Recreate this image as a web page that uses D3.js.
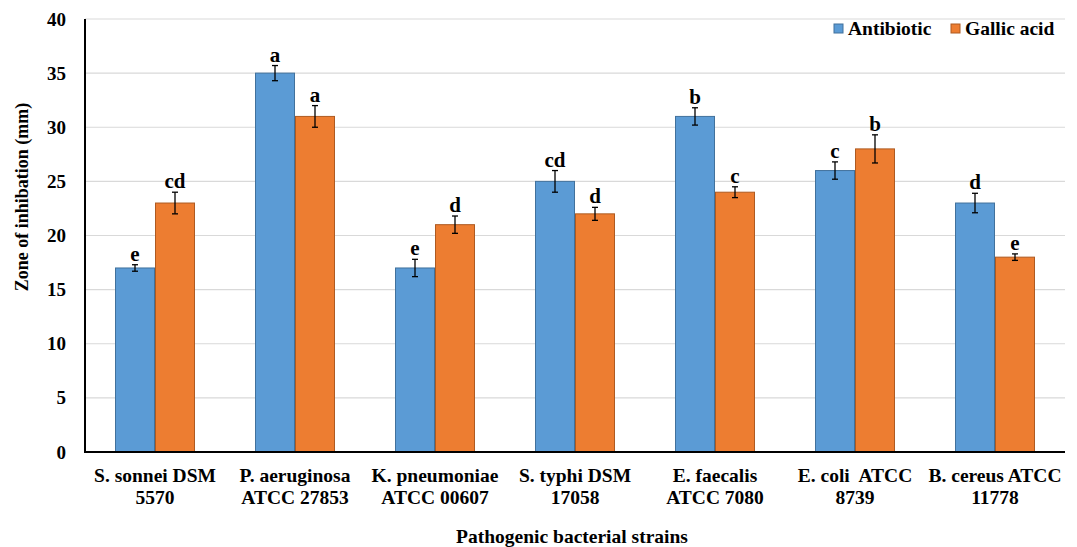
<!DOCTYPE html>
<html><head><meta charset="utf-8">
<script src="https://cdn.jsdelivr.net/npm/d3@7"></script>
<style>body{margin:0;background:#fff}svg text{font-family:"Liberation Serif","Times New Roman",serif;font-weight:bold;fill:#000;white-space:pre}</style>
</head><body>
<svg id="c" width="1077" height="547"></svg>
<script>
const categories = [["S. sonnei DSM","5570"],["P. aeruginosa","ATCC 27853"],["K. pneumoniae","ATCC 00607"],["S. typhi DSM","17058"],["E. faecalis","ATCC 7080"],["E. coli  ATCC","8739"],["B. cereus ATCC","11778"]];
const seriesNames = ["Antibiotic","Gallic acid"];
const antibiotic = [17,35,17,25,31,26,23];
const gallic = [23,31,21,22,24,28,18];
const antibioticErr = [0.3,0.7,0.8,1.0,0.8,0.8,0.9];
const gallicErr = [1.0,1.0,0.8,0.6,0.5,1.3,0.3];
const antibioticLetters = ["e","a","e","cd","b","c","d"];
const gallicLetters = ["cd","a","d","d","c","b","e"];
const yTicks = [0,5,10,15,20,25,30,35,40];

(function(){
const svg = d3.select("#c");
const L = 85, R = 1065, T = 19, B = 452;
const x0 = d3.scaleBand().domain(d3.range(categories.length)).range([L,R]).paddingInner(0.4286).paddingOuter(0.2143);
const x1 = d3.scaleBand().domain([0,1]).range([0,x0.bandwidth()]);
const y = d3.scaleLinear().domain([0,40]).range([B,T]);
const fills = ["#5B9BD5","#ED7D31"], strokes = ["#41719C","#AE5A21"];

svg.append("g").selectAll("line").data(yTicks.filter(d=>d>0)).join("line")
  .attr("x1",L).attr("x2",R).attr("y1",d=>y(d)).attr("y2",d=>y(d))
  .attr("stroke","#d9d9d9").attr("stroke-width",1.2);

const data = categories.map((c,i)=>[
  {v:antibiotic[i],e:antibioticErr[i],l:antibioticLetters[i],s:0},
  {v:gallic[i],e:gallicErr[i],l:gallicLetters[i],s:1}]);

const g = svg.append("g").selectAll("g").data(data).join("g").attr("transform",(d,i)=>`translate(${x0(i)},0)`);
g.selectAll("rect").data(d=>d).join("rect")
  .attr("x",d=>x1(d.s)+0.5).attr("width",x1.bandwidth()-1)
  .attr("y",d=>y(d.v)).attr("height",d=>B-y(d.v))
  .attr("fill",d=>fills[d.s]).attr("stroke",d=>strokes[d.s]).attr("stroke-width",1);
const eb = g.selectAll("g.eb").data(d=>d).join("g").attr("class","eb");
eb.append("line").attr("x1",d=>x1(d.s)+x1.bandwidth()/2).attr("x2",d=>x1(d.s)+x1.bandwidth()/2)
  .attr("y1",d=>y(d.v+d.e)).attr("y2",d=>y(d.v-d.e)).attr("stroke","#000").attr("stroke-width",1.3);
[1,-1].forEach(sg=>{
  eb.append("line").attr("x1",d=>x1(d.s)+x1.bandwidth()/2-3).attr("x2",d=>x1(d.s)+x1.bandwidth()/2+3)
    .attr("y1",d=>y(d.v+sg*d.e)).attr("y2",d=>y(d.v+sg*d.e)).attr("stroke","#000").attr("stroke-width",1.3);
});
eb.append("text").attr("x",d=>x1(d.s)+x1.bandwidth()/2).attr("y",d=>y(d.v+d.e)-4)
  .attr("text-anchor","middle").attr("font-size",21).text(d=>d.l);

svg.append("line").attr("x1",L).attr("x2",L).attr("y1",T).attr("y2",B+1).attr("stroke","#000").attr("stroke-width",2);
svg.append("line").attr("x1",L-1).attr("x2",R).attr("y1",B).attr("y2",B).attr("stroke","#000").attr("stroke-width",2);
svg.append("g").selectAll("text").data(yTicks).join("text")
  .attr("x",66).attr("y",d=>y(d)+6.5).attr("text-anchor","end").attr("font-size",19).text(d=>d);
const xl = svg.append("g").selectAll("text").data(categories).join("text")
  .attr("text-anchor","middle").attr("font-size",19.5).attr("transform",(d,i)=>`translate(${x0(i)+x0.bandwidth()/2},0)`);
xl.append("tspan").attr("x",0).attr("y",482).text(d=>d[0]);
xl.append("tspan").attr("x",0).attr("y",504).text(d=>d[1]);

svg.append("text").attr("x",572).attr("y",543).attr("text-anchor","middle").attr("font-size",19.5).text("Pathogenic bacterial strains");
svg.append("text").attr("transform","translate(28,197) rotate(-90)").attr("text-anchor","middle").attr("font-size",18).text("Zone of inhibation (mm)");

const lg = svg.append("g").selectAll("g").data(seriesNames).join("g").attr("transform",(d,i)=>`translate(${[834,951][i]},24)`);
lg.append("rect").attr("width",9).attr("height",9).attr("fill",(d,i)=>fills[i]).attr("stroke",(d,i)=>strokes[i]);
lg.append("text").attr("x",14).attr("y",11).attr("font-size",19.5).text(d=>d);
})();
</script>
</body></html>
